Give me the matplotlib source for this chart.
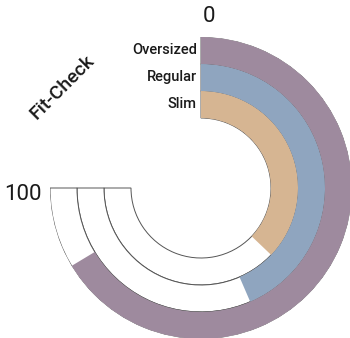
import numpy as np
import matplotlib
matplotlib.use("Agg")
import matplotlib.pyplot as plt

# -------------------------
# Data
# -------------------------
categories = ["Slim", "Regular", "Oversized"]
values = [49.5, 58, 88.5]
colors = ["#d6b592", "#8fa5bf", "#9e8a9e"]
title = "Fit-Check"
scale_min, scale_max = 0, 100

SPAN = 1.5 * np.pi          # 270 degrees of sweep
R_IN, R_OUT = 70, 151       # inner hole / outer edge, in radial units
ring_h = (R_OUT - R_IN) / len(categories)

plt.rcParams["font.family"] = ["Roboto", "DejaVu Sans"]

fig = plt.figure(figsize=(3.5, 3.38), dpi=100)
cx, cy, rad = 201, 188, 151   # pixel centre and radius
ax = fig.add_axes([(cx - rad) / 350, (338 - cy - rad) / 338, 2 * rad / 350, 2 * rad / 338],
                  projection="polar")
ax.set_theta_zero_location("N")
ax.set_theta_direction(-1)
ax.set_ylim(0, R_OUT)
ax.set_xticks([])
ax.set_yticks([])
ax.grid(False)
ax.spines["polar"].set_visible(False)
ax.patch.set_alpha(0)

bottoms = [R_IN + i * ring_h for i in range(len(categories))]

# background tracks (full scale) then value bars
ax.bar(0, ring_h, width=SPAN, bottom=bottoms, align="edge",
       color="white", edgecolor="#555555", linewidth=0.7)
thetas = [v / scale_max * SPAN for v in values]
for b, th, c in zip(bottoms, thetas, colors):
    ax.bar(0, ring_h, width=th, bottom=b, align="edge", color=c, edgecolor="none")

# category labels left of the zero line
for b, name in zip(bottoms, categories):
    ax.annotate(name, xy=(0, b + ring_h / 2), xytext=(-3, 0), textcoords="offset points",
                ha="right", va="center", fontsize=10.5, fontweight="medium", color="#1a1a1a")

# scale end labels
ax.annotate(str(scale_min), xy=(0, R_OUT), xytext=(1, 7), textcoords="offset points",
            ha="left", va="bottom", fontsize=16, color="#1a1a1a")
ax.annotate(str(scale_max), xy=(SPAN, R_OUT), xytext=(-6, 3), textcoords="offset points",
            ha="right", va="top", fontsize=16, color="#1a1a1a")

fig.text(62 / 350, 1 - 87 / 338, title, rotation=45, ha="center", va="center",
         fontsize=14, fontweight="medium", color="#1a1a1a")

fig.savefig("out.png", dpi=100)
